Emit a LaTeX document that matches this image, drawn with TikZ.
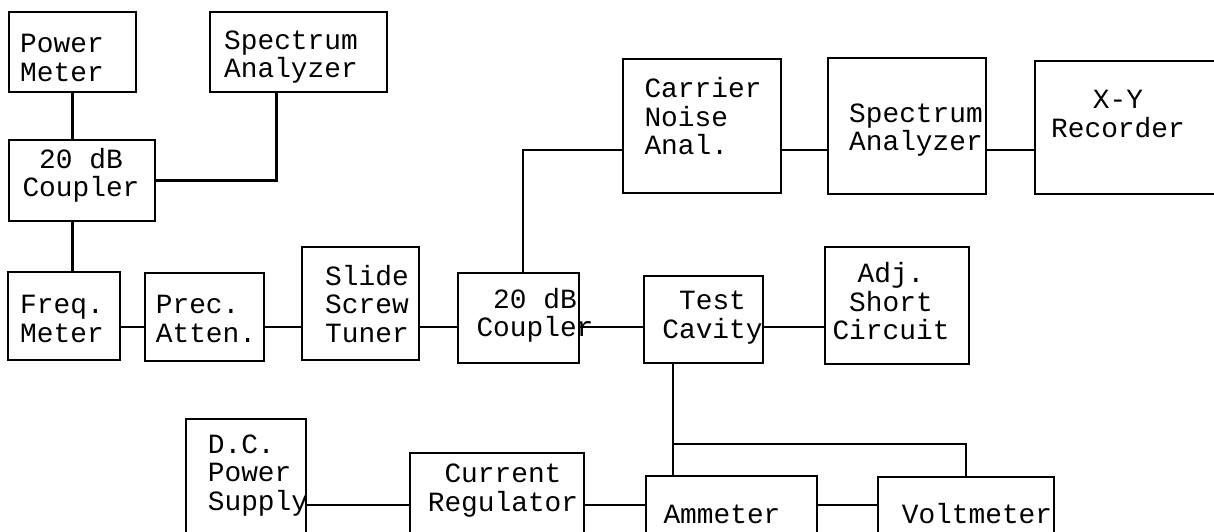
\documentclass[tikz,border=0pt]{standalone}
\usepackage{fontspec}
\setmainfont{Liberation Mono}
\begin{document}
\begin{tikzpicture}[
    x=0.25mm, y=-0.25mm,
    block/.style 2 args={draw, line width=1.8pt, minimum width=#1*0.25mm,
                         minimum height=#2*0.25mm, inner sep=0pt},
    lbl/.style={align=center, inner sep=0pt, font=\fontsize{19.8pt}{20.3pt}\selectfont},
    wire/.style={line width=1.7pt},
  ]
  \useasboundingbox (0,0) rectangle (1214,532);
  \clip (0,0) rectangle (1214,532);
  % rows that the wires run along
  \coordinate (up)  at (0,150);
  \coordinate (mid) at (0,327);
  \coordinate (bot) at (0,505);
  \coordinate (tap) at (673,444);

  \node[block={127}{80}]  (pwrm)  at (72.5,52)    {};
  \node[block={177}{80}]  (spa1)  at (298.5,52)   {};
  \node[block={146}{81}]  (cpl1)  at (82,180.5)   {};
  \node[block={112}{88}]  (freq)  at (64,316)     {};
  \node[block={119}{88}]  (atten) at (204.5,317)  {};
  \node[block={117}{113}] (tuner) at (360.5,303.5) {};
  \node[block={121}{90}]  (cpl2)  at (518.5,318)  {};
  \node[block={119}{87}]  (cav)   at (703.5,319.5) {};
  \node[block={144}{117}] (short) at (897,305.5)  {};
  \node[block={158}{134}] (cna)   at (702,126)    {};
  \node[block={158}{136}] (spa2)  at (907,126)    {};
  \node[block={200}{133}] (xy)    at (1135,127.5) {};
  \node[block={120}{141}] (dcps)  at (246,489.5)  {};
  \node[block={174}{107}] (reg)   at (497,506.5)  {};
  \node[block={171}{84}]  (amm)   at (731.5,518)  {};
  \node[block={176}{83}]  (volt)  at (966,518.5)  {};

  \node[lbl, align=left] (pwrm-t)  at (62,58)     {Power\\Meter};
  \node[lbl, align=left] (spa1-t)  at (291,57)    {Spectrum\\Analyzer};
  \node[lbl]             (cpl1-t)  at (81,175.5)  {20 dB\\Coupler};
  \node[lbl, align=left] (freq-t)  at (62,319)    {Freq.\\Meter};
  \node[lbl, align=left] (atten-t) at (206,319)   {Prec.\\Atten.};
  \node[lbl]             (tuner-t) at (367,304)   {Slide\\Screw\\Tuner};
  \node[lbl]             (cpl2-t)  at (535,315.5) {20 dB\\Coupler};
  \node[lbl]             (cav-t)   at (712.5,317.5) {Test\\Cavity};
  \node[lbl]             (short-t) at (891,301.5) {Adj.\\Short\\Circuit};
  \node[lbl, align=left] (cna-t)   at (703,116.5) {Carrier\\Noise\\Anal.};
  \node[lbl, align=left] (spa2-t)  at (916,130)   {Spectrum\\Analyzer};
  \node[lbl]             (xy-t)    at (1118,114)  {X-Y\\Recorder};
  \node[lbl, align=left] (dcps-t)  at (258,475.5) {D.C.\\Power\\Supply};
  \node[lbl]             (reg-t)   at (503,490.5) {Current\\Regulator};
  \node[lbl]             (amm-t)   at (722,514)   {Ammeter};
  \node[lbl]             (volt-t)  at (977,514)   {Voltmeter};

  \draw[wire] (pwrm.south) -- (pwrm.south |- cpl1.north);
  \draw[wire] (cpl1.east) -| ([xshift=-22*0.25mm]spa1.south);
  \draw[wire] (pwrm.south |- cpl1.south) -- (pwrm.south |- freq.north);
  \draw[wire] (freq.east |- mid)  -- (atten.west |- mid);
  \draw[wire] (atten.east |- mid) -- (tuner.west |- mid);
  \draw[wire] (tuner.east |- mid) -- (cpl2.west |- mid);
  \draw[wire] (cpl2.east |- mid)  -- (cav.west |- mid);
  \draw[wire] (cav.east |- mid)   -- (short.west |- mid);
  \draw[wire] ([xshift=4.5*0.25mm]cpl2.north) |- (cna.west |- up);
  \draw[wire] (cna.east |- up)  -- (spa2.west |- up);
  \draw[wire] (spa2.east |- up) -- (xy.west |- up);
  \draw[wire] (cav.south -| tap) -- (amm.north -| tap);
  \draw[wire] (tap) -| (volt.north);
  \draw[wire] (dcps.east |- bot) -- (reg.west |- bot);
  \draw[wire] (reg.east |- bot)  -- (amm.west |- bot);
  \draw[wire] (amm.east |- bot)  -- (volt.west |- bot);
\end{tikzpicture}
\end{document}
